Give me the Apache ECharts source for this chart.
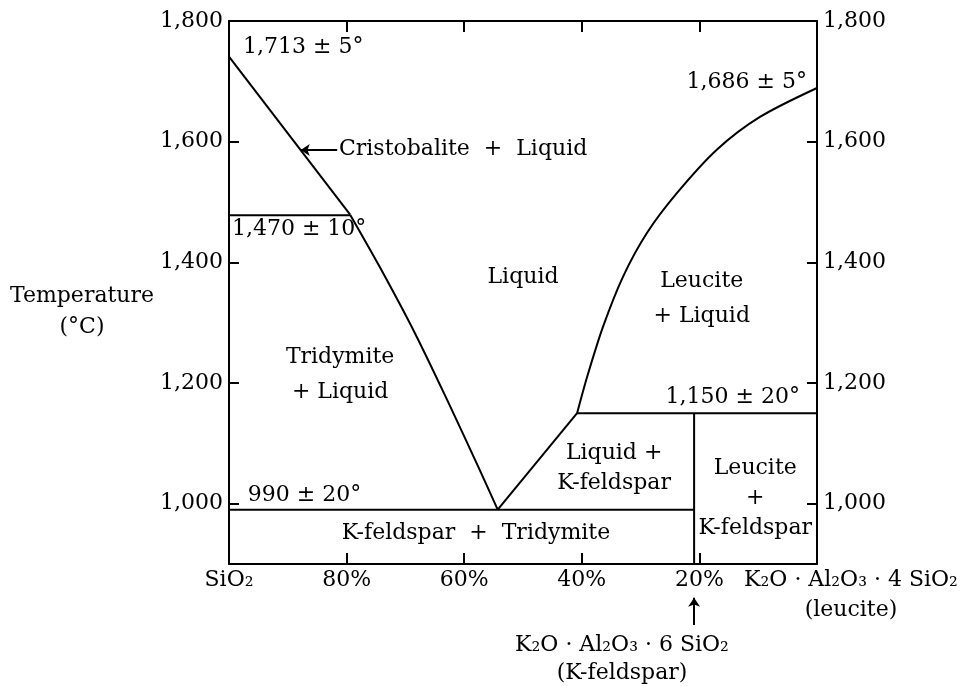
<!DOCTYPE html>
<html>
<head>
<meta charset="utf-8">
<title>SiO2 - leucite phase diagram</title>
<script src="https://cdn.jsdelivr.net/npm/echarts@6/dist/echarts.min.js"></script>
<style>
html, body { margin: 0; padding: 0; background: #fff; }
#main { width: 969px; height: 686px; }
</style>
</head>
<body>
<div id="main"></div>
<script>
// boundaries: [wt% SiO2, temperature °C]
var cristobaliteLiquidus = [[100, 1741], [79.4, 1479]];
var tridymiteLiquidus = [[79.4, 1479], [74.4, 1393], [68.4, 1283], [62.9, 1172], [57.6, 1061], [54.3, 990]];
var leuciteLiquidus = [[0, 1689], [9.7, 1641], [17.0, 1587], [23.8, 1515], [28.9, 1449], [33.0, 1376], [36.4, 1293], [39.1, 1210], [40.8, 1150]];
var feldsparLiquidus = [[40.8, 1150], [54.3, 990]];
var inversionLine = [[100, 1478], [79.4, 1478]];
var eutecticLine = [[100, 990], [20.9, 990]];
var peritecticLine = [[40.8, 1150], [0, 1150]];
var feldsparLine = [[20.9, 1150], [20.9, 900]];

// axis ticks
var xTicks = [80, 60, 40, 20];
var xLabels = { 100: 'SiO₂', 80: '80%', 60: '60%', 40: '40%', 20: '20%' };
var yTicks = [1000, 1200, 1400, 1600];
var yLabels = [1000, 1200, 1400, 1600, 1800];

// region / point labels: [x, y, text, align, lineHeight]
var notes = [
    [97.6, 1756, '1,713 ± 5°', 'left', 26],
    [81.3, 1587, 'Cristobalite  +  Liquid', 'left', 26],
    [99.5, 1454, '1,470 ± 10°', 'left', 26],
    [50, 1376, 'Liquid', 'center', 26],
    [19.6, 1339, 'Leucite\n+ Liquid', 'center', 35],
    [1.7, 1698, '1,686 ± 5°', 'right', 26],
    [81.1, 1214, 'Tridymite\n+ Liquid', 'center', 35],
    [2.9, 1177, '1,150 ± 20°', 'right', 26],
    [34.5, 1059, 'Liquid +\nK-feldspar', 'center', 30],
    [10.5, 1009, 'Leucite\n+\nK-feldspar', 'center', 30],
    [96.8, 1014, '990 ± 20°', 'left', 26],
    [58, 951, 'K-feldspar  +  Tridymite', 'center', 26]
];
var cristobaliteArrow = [[81.6, 1586], [87.8, 1586]];
var feldsparArrow = [[20.9, 799], [20.9, 844]];

var FONT = 'DejaVu Serif';
var chart = echarts.init(document.getElementById('main'));

function fmtTemp(v) {
    return String(v).replace(/\B(?=(\d{3})+(?!\d))/g, ',');
}

function xAxis(pos, showLabel) {
    return {
        type: 'value', min: 0, max: 100, inverse: true, position: pos,
        axisLine: { onZero: false, lineStyle: { color: '#000', width: 2 } },
        axisTick: { inside: true, length: 11, customValues: xTicks, lineStyle: { color: '#000', width: 2 } },
        axisLabel: {
            show: showLabel, customValues: [100, 80, 60, 40, 20], margin: 5,
            color: '#000', fontFamily: FONT, fontSize: 22,
            formatter: function (v) { return xLabels[v] || ''; }
        },
        splitLine: { show: false }
    };
}

function yAxis(pos) {
    return {
        type: 'value', min: 900, max: 1800, position: pos,
        axisLine: { onZero: false, lineStyle: { color: '#000', width: 2 } },
        axisTick: { inside: true, length: 10, customValues: yTicks, lineStyle: { color: '#000', width: 2 } },
        axisLabel: {
            customValues: yLabels, margin: 6,
            color: '#000', fontFamily: FONT, fontSize: 22,
            formatter: fmtTemp
        },
        splitLine: { show: false }
    };
}

function boundary(data, smooth) {
    return {
        type: 'line', data: data, symbol: 'none', smooth: smooth || false,
        silent: true, animation: false,
        lineStyle: { color: '#000', width: 2 }
    };
}

function caption(x, y, text, lineHeight) {
    return {
        type: 'text', x: x, y: y, silent: true,
        style: {
            text: text, fill: '#000', font: '22px "DejaVu Serif"',
            align: 'center', verticalAlign: 'middle', lineHeight: lineHeight
        }
    };
}

chart.setOption({
    backgroundColor: '#fff',
    animation: false,
    grid: { left: 229, right: 152, top: 21, bottom: 122 },
    xAxis: [xAxis('bottom', true), xAxis('top', false)],
    yAxis: [yAxis('left'), yAxis('right')],
    graphic: [
        caption(82, 312, 'Temperature\n(°C)', 31),
        caption(851, 595, 'K₂O · Al₂O₃ · 4 SiO₂\n(leucite)', 30),
        caption(622, 659, 'K₂O · Al₂O₃ · 6 SiO₂\n(K-feldspar)', 28)
    ],
    series: [
        boundary(cristobaliteLiquidus),
        boundary(tridymiteLiquidus, 0.3),
        boundary(leuciteLiquidus, 0.3),
        boundary(feldsparLiquidus),
        boundary(inversionLine),
        boundary(eutecticLine),
        boundary(peritecticLine),
        boundary(feldsparLine),
        {
            type: 'lines', coordinateSystem: 'cartesian2d', silent: true, clip: false,
            symbol: ['none', 'arrow'], symbolSize: 9,
            lineStyle: { color: '#000', width: 2, opacity: 1 },
            data: [{ coords: cristobaliteArrow }, { coords: feldsparArrow }]
        },
        {
            type: 'scatter', symbolSize: 0, silent: true, z: 5,
            itemStyle: { color: '#000', opacity: 1 },
            data: notes.map(function (n) {
                return {
                    value: [n[0], n[1]],
                    label: {
                        show: true, position: 'inside', formatter: n[2], align: n[3],
                        color: '#000', opacity: 1, fontFamily: FONT, fontSize: 22, lineHeight: n[4],
                        textBorderWidth: 0, textBorderColor: 'transparent'
                    }
                };
            })
        }
    ]
});
</script>
</body>
</html>
